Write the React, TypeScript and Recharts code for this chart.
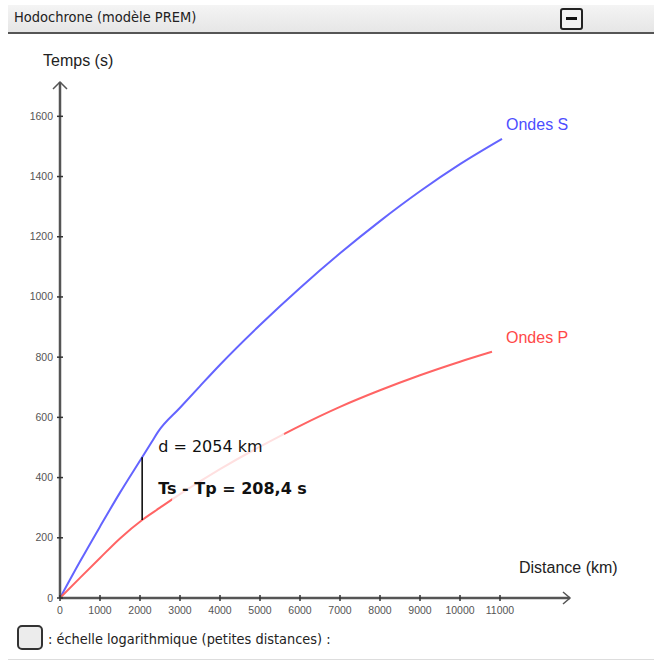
import React from 'react'
import { LineChart, Line, XAxis, YAxis, ReferenceLine, ReferenceDot } from 'recharts'

// travel times read from the PREM hodochrone (distance in km, time in s)
const distS = [0, 500, 1000, 1500, 2054, 2300, 2450, 3000, 3500, 4000, 5000, 6000, 7000, 8000, 9000, 10000, 11050]
const timeS = [0, 121, 237, 350, 467.6, 520, 552, 632, 704, 775, 907, 1030, 1145, 1252, 1351, 1441, 1525]

const distP = [0, 500, 1000, 1500, 2054, 2500, 3000, 4000, 5000, 5500, 6000, 7000, 8000, 9000, 10000, 10800]
const timeP = [0, 67, 133, 198, 259.2, 300, 345, 428, 503, 538, 572, 635, 690, 740, 785, 818]

const xTicks = [0, 1000, 2000, 3000, 4000, 5000, 6000, 7000, 8000, 9000, 10000, 11000]
const yTicks = [0, 200, 400, 600, 800, 1000, 1200, 1400, 1600]

const selectedDist = 2054
const selectedTs = 467.6
const selectedTp = 259.2
const deltaLabel = 'Ts - Tp = 208,4 s'

const dataS = distS.map((d, i) => ({ d, t: timeS[i] }))
const dataP = distP.map((d, i) => ({ d, t: timeP[i] }))

const X_MAX = 12750
const Y_MAX = 1714

const AXIS = '#555'
const BLUE = '#6464ff'
const RED = '#ff6464'
const SANS = "'Liberation Sans', Arial, sans-serif"

const YTick = (props: any) => {
  const { x, y, payload } = props
  const ax = x + 7
  return (
    <g>
      <line x1={ax - 3} x2={ax + 3} y1={y} y2={y} stroke="#333" strokeWidth={1.5} />
      <text x={x} y={y} dy={3.5} textAnchor="end" fontSize={10.5} fill="#555" fontFamily={SANS}>
        {payload.value}
      </text>
    </g>
  )
}

const XTick = (props: any) => {
  const { x, y, payload } = props
  const ay = y - 6
  return (
    <g>
      <line x1={x} x2={x} y1={ay - 3} y2={ay + 3} stroke="#333" strokeWidth={1.5} />
      <text x={x} y={ay} dy={16} textAnchor="middle" fontSize={10.5} fill="#555" fontFamily={SANS}>
        {payload.value}
      </text>
    </g>
  )
}

const XArrow = (props: any) => {
  const { cx, cy } = props
  return (
    <g>
      <path d={`M${cx - 7},${cy - 6} L${cx},${cy} L${cx - 7},${cy + 6}`} fill="none" stroke={AXIS} strokeWidth={1.5} />
      <text x={cx - 51} y={cy - 25} fontSize={16} fill="#222" fontFamily={SANS}>Distance (km)</text>
    </g>
  )
}

const YArrow = (props: any) => {
  const { cx, cy } = props
  return (
    <g>
      <path d={`M${cx - 7},${cy + 7} L${cx},${cy} L${cx + 7},${cy + 7}`} fill="none" stroke={AXIS} strokeWidth={1.5} />
      <text x={cx - 17} y={cy - 16} fontSize={16} fill="#222" fontFamily={SANS}>Temps (s)</text>
    </g>
  )
}

const SeriesName = (text: string, color: string, dx: number) => (props: any) => {
  const { cx, cy } = props
  return (
    <text x={cx + dx} y={cy - 9} fontSize={16} fill={color} fontFamily={SANS}>{text}</text>
  )
}

const Annotation = (props: any) => {
  const { cx, cy } = props
  return (
    <g fontFamily="'DejaVu Sans', Verdana, sans-serif" fill="#111">
      {/* translucent backing behind the labels, fades the P curve */}
      <rect x={cx + 30} y={cy - 24} width={112} height={78} fill="#fff" fillOpacity={0.8} />
      <text x={cx + 16} y={cy - 5} fontSize={16}>d = {selectedDist} km</text>
      <text x={cx + 16} y={cy + 37} fontSize={16} fontWeight="bold">{deltaLabel}</text>
    </g>
  )
}

export default function App() {
  return (
    <div style={{ position: 'absolute', left: 0, top: 0, width: 654, height: 662, background: '#fff', overflow: 'hidden' }}>
      <div
        style={{
          position: 'absolute', left: 8, top: 5, width: 646, height: 27,
          background: 'linear-gradient(#f4f4f4, #e6e6e6)', borderBottom: '2px solid #555',
          fontFamily: "'DejaVu Sans Condensed', 'DejaVu Sans', sans-serif", fontSize: 14.5, color: '#222',
        }}
      >
        <span style={{ position: 'absolute', left: 6, top: 4 }}>Hodochrone (modèle PREM)</span>
        <div
          style={{
            position: 'absolute', left: 552, top: 3, width: 19, height: 18,
            border: '2px solid #222', borderRadius: 3, background: '#f2f2f2',
          }}
        >
          <div style={{ position: 'absolute', left: 4, top: 7, width: 11, height: 3, background: '#111' }} />
        </div>
      </div>

      <div style={{ position: 'absolute', left: 0, top: 0 }}>
        <LineChart width={654} height={662} data={dataS} margin={{ top: 82, right: 84, left: 10, bottom: 34 }}>
          <XAxis
            type="number"
            dataKey="d"
            domain={[0, X_MAX]}
            ticks={xTicks}
            interval={0}
            height={30}
            axisLine={{ stroke: AXIS, strokeWidth: 2.5 }}
            tickLine={false}
            tickSize={0}
            tickMargin={6}
            tick={<XTick />}
            allowDataOverflow
          />
          <YAxis
            type="number"
            dataKey="t"
            domain={[0, Y_MAX]}
            ticks={yTicks}
            interval={0}
            width={50}
            axisLine={{ stroke: AXIS, strokeWidth: 2.5 }}
            tickLine={false}
            tickSize={0}
            tickMargin={7}
            tick={<YTick />}
            allowDataOverflow
          />
          <Line data={dataS} dataKey="t" type="monotone" stroke={BLUE} strokeWidth={2} dot={false} isAnimationActive={false} />
          <Line data={dataP} dataKey="t" type="monotone" stroke={RED} strokeWidth={2} dot={false} isAnimationActive={false} />
          <ReferenceLine
            segment={[{ x: selectedDist, y: selectedTp }, { x: selectedDist, y: selectedTs }]}
            stroke="#000"
            strokeWidth={1.5}
          />
          <ReferenceDot x={selectedDist} y={selectedTs} r={0} shape={<Annotation />} ifOverflow="visible" />
          <ReferenceDot x={distS[distS.length - 1]} y={timeS[timeS.length - 1]} r={0} shape={SeriesName('Ondes S', '#4d4dff', 4)} ifOverflow="visible" />
          <ReferenceDot x={distP[distP.length - 1]} y={timeP[timeP.length - 1]} r={0} shape={SeriesName('Ondes P', '#ff4848', 14)} ifOverflow="visible" />
          <ReferenceDot x={X_MAX} y={0} r={0} shape={<XArrow />} ifOverflow="visible" />
          <ReferenceDot x={0} y={Y_MAX} r={0} shape={<YArrow />} ifOverflow="visible" />
        </LineChart>
      </div>

      <div
        style={{
          position: 'absolute', left: 17, top: 625, width: 22, height: 21,
          border: '2.5px solid #333', borderRadius: 5, background: '#ececec',
        }}
      />
      <div
        style={{
          position: 'absolute', left: 48, top: 631,
          fontFamily: "'DejaVu Sans Condensed', 'DejaVu Sans', sans-serif", fontSize: 14.4, color: '#222',
        }}
      >
        : échelle logarithmique (petites distances) :
      </div>
      <div style={{ position: 'absolute', left: 8, top: 659, width: 646, height: 1, background: '#ddd' }} />
    </div>
  )
}
